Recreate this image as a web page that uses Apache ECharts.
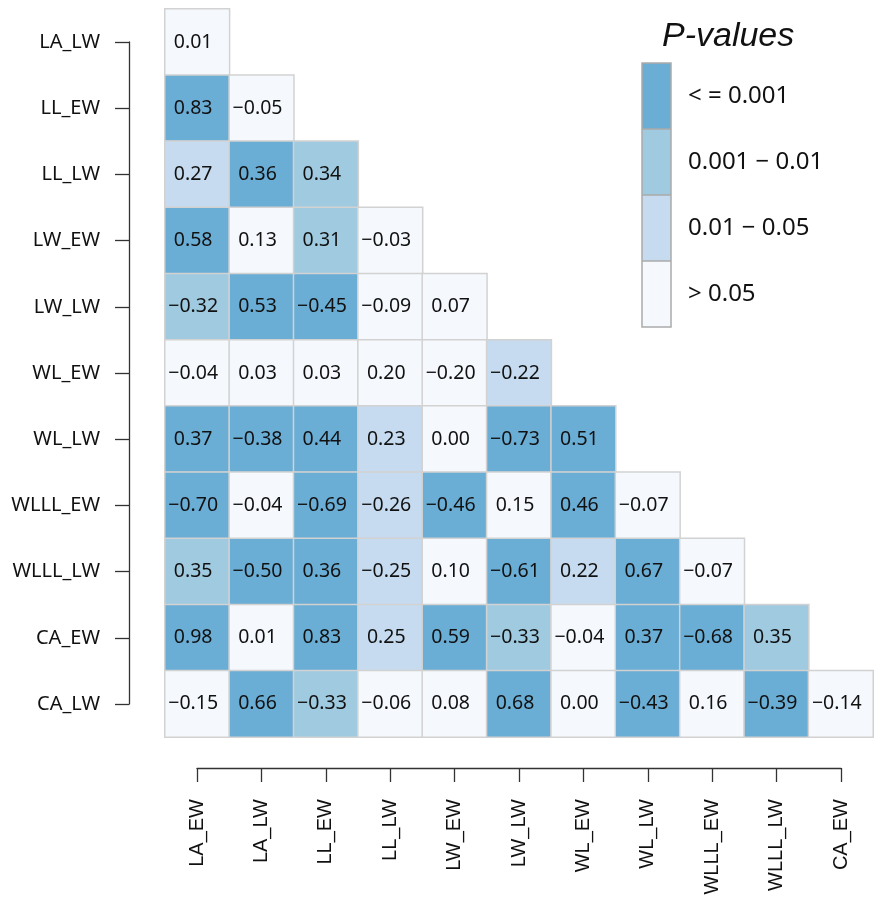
<!DOCTYPE html>
<html>
<head>
<meta charset="utf-8">
<script src="https://cdn.jsdelivr.net/npm/echarts@6/dist/echarts.min.js"></script>
<style>html,body{margin:0;padding:0;background:#fff}#c{width:882px;height:901px}</style>
</head>
<body>
<div id="c"></div>
<script>
// Column (x) and row (y) variable names
const colNames = ['LA_EW','LA_LW','LL_EW','LL_LW','LW_EW','LW_LW','WL_EW','WL_LW','WLLL_EW','WLLL_LW','CA_EW'];
const rowNames = ['LA_LW','LL_EW','LL_LW','LW_EW','LW_LW','WL_EW','WL_LW','WLLL_EW','WLLL_LW','CA_EW','CA_LW'];

// Correlation coefficients per row (lower triangle)
const corrValues = [
  [0.01],
  [0.83, -0.05],
  [0.27, 0.36, 0.34],
  [0.58, 0.13, 0.31, -0.03],
  [-0.32, 0.53, -0.45, -0.09, 0.07],
  [-0.04, 0.03, 0.03, 0.20, -0.20, -0.22],
  [0.37, -0.38, 0.44, 0.23, 0.00, -0.73, 0.51],
  [-0.70, -0.04, -0.69, -0.26, -0.46, 0.15, 0.46, -0.07],
  [0.35, -0.50, 0.36, -0.25, 0.10, -0.61, 0.22, 0.67, -0.07],
  [0.98, 0.01, 0.83, 0.25, 0.59, -0.33, -0.04, 0.37, -0.68, 0.35],
  [-0.15, 0.66, -0.33, -0.06, 0.08, 0.68, 0.00, -0.43, 0.16, -0.39, -0.14]
];

// P-value class per cell: 3 = <=0.001, 2 = 0.001-0.01, 1 = 0.01-0.05, 0 = >0.05
const pClass = [
  [0],
  [3, 0],
  [1, 3, 2],
  [3, 0, 2, 0],
  [2, 3, 3, 0, 0],
  [0, 0, 0, 0, 0, 1],
  [3, 3, 3, 1, 0, 3, 3],
  [3, 0, 3, 1, 3, 0, 3, 0],
  [2, 3, 3, 1, 0, 3, 1, 3, 0],
  [3, 0, 3, 1, 3, 2, 0, 3, 3, 2],
  [0, 3, 2, 0, 0, 3, 0, 3, 0, 3, 0]
];

const pLabels = ['> 0.05', '0.01 \u2212 0.05', '0.001 \u2212 0.01', '< = 0.001'];
const pColors = ['#f5f9fd', '#c6dbef', '#9fcae0', '#6aadd5'];

const data = [];
corrValues.forEach((row, r) => {
  row.forEach((v, c) => {
    data.push([c, r, pClass[r][c], v]);
  });
});

const fmt = v => (v < 0 ? '\u2212' : '') + Math.abs(v).toFixed(2);

const chart = echarts.init(document.getElementById('c'), null, {renderer: 'canvas'});
const textFont = 'Noto Sans';

chart.setOption({
  animation: false,
  backgroundColor: '#fff',
  title: {
    text: 'P-values',
    left: 657, top: 15,
    textStyle: {fontFamily: 'Liberation Sans', fontStyle: 'italic', fontWeight: 'normal', fontSize: 34, color: '#111'}
  },
  grid: [
    {left: 165, top: 9, width: 708, height: 728},
    {left: 197, top: 760, width: 644, height: 8},
    {left: 129, top: 42, width: 8, height: 662}
  ],
  xAxis: [
    {gridIndex: 0, type: 'category', data: colNames, show: false},
    {gridIndex: 1, type: 'category', data: colNames, boundaryGap: false, position: 'bottom',
      axisLine: {lineStyle: {color: '#333', width: 1.3}},
      axisTick: {length: 14, lineStyle: {color: '#333', width: 1.3}},
      axisLabel: {rotate: 90, margin: 31, fontSize: 20, color: '#111', fontFamily: 'Liberation Sans'},
      splitLine: {show: false}},
    {gridIndex: 2, type: 'value', show: false}
  ],
  yAxis: [
    {gridIndex: 0, type: 'category', data: rowNames, inverse: true, show: false},
    {gridIndex: 1, type: 'value', show: false},
    {gridIndex: 2, type: 'category', data: rowNames, inverse: true, boundaryGap: false, position: 'left',
      axisLine: {lineStyle: {color: '#333', width: 1.3}},
      axisTick: {length: 14, lineStyle: {color: '#333', width: 1.3}},
      axisLabel: {margin: 29, fontSize: 20, color: '#111', fontFamily: textFont},
      splitLine: {show: false}}
  ],
  visualMap: {
    type: 'piecewise',
    dimension: 2,
    seriesIndex: 0,
    orient: 'vertical',
    align: 'left',
    left: 642, top: 63,
    padding: 0,
    itemWidth: 29, itemHeight: 66, itemGap: 0,
    textGap: 17,
    selectedMode: false,
    itemSymbol: 'rect',
    textStyle: {fontSize: 24, color: '#111', fontFamily: textFont},
    pieces: pLabels.map((l, i) => ({value: i, label: l, color: pColors[i]}))
  },
  graphic: [
    {type: 'rect', shape: {x: 642, y: 63, width: 29, height: 264}, style: {fill: 'none', stroke: '#aaa', lineWidth: 1.5}, z: 100},
    {type: 'line', shape: {x1: 642, y1: 129, x2: 671, y2: 129}, style: {stroke: '#aaa', lineWidth: 1.5}, z: 100},
    {type: 'line', shape: {x1: 642, y1: 195, x2: 671, y2: 195}, style: {stroke: '#aaa', lineWidth: 1.5}, z: 100},
    {type: 'line', shape: {x1: 642, y1: 261, x2: 671, y2: 261}, style: {stroke: '#aaa', lineWidth: 1.5}, z: 100}
  ],
  series: [{
    type: 'heatmap',
    xAxisIndex: 0, yAxisIndex: 0,
    data: data,
    itemStyle: {borderColor: '#d2d2d2', borderWidth: 1.5},
    label: {
      show: true,
      formatter: p => fmt(p.data[3]),
      fontSize: 19.5, color: '#111', fontFamily: textFont,
      offset: [-4, 0]
    },
    emphasis: {disabled: true}
  }]
});
</script>
</body>
</html>
